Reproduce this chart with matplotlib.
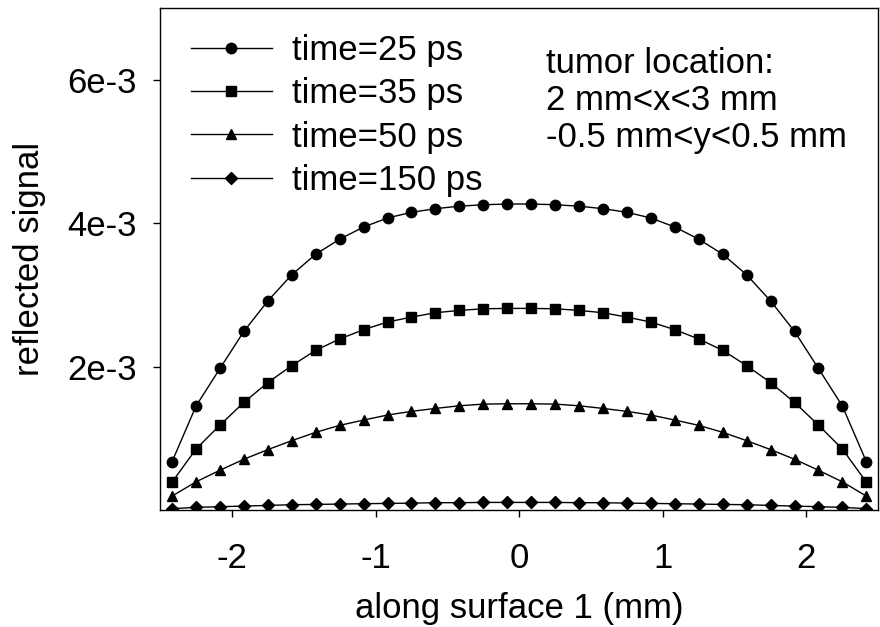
import matplotlib
matplotlib.use('Agg')
import matplotlib.pyplot as plt

plt.rcParams['font.family'] = ['Liberation Sans', 'DejaVu Sans']

# detector positions along surface 1 (mm)
pos = [-2.417, -2.250, -2.083, -1.917, -1.750, -1.583, -1.417, -1.250,
       -1.083, -0.917, -0.750, -0.583, -0.417, -0.250, -0.083,
       0.083, 0.250, 0.417, 0.583, 0.750, 0.917, 1.083, 1.250,
       1.417, 1.583, 1.750, 1.917, 2.083, 2.250, 2.417]

# left half of each curve (the curves are symmetric about 0)
half_25 = [6.8e-4, 1.455e-3, 1.98e-3, 2.495e-3, 2.92e-3, 3.285e-3, 3.57e-3,
           3.78e-3, 3.95e-3, 4.075e-3, 4.155e-3, 4.205e-3, 4.24e-3, 4.26e-3,
           4.27e-3]
half_35 = [3.94e-4, 8.56e-4, 1.19e-3, 1.505e-3, 1.782e-3, 2.018e-3, 2.231e-3,
           2.389e-3, 2.519e-3, 2.625e-3, 2.694e-3, 2.755e-3, 2.787e-3, 2.81e-3,
           2.815e-3]
half_50 = [1.99e-4, 3.98e-4, 5.6e-4, 7.13e-4, 8.47e-4, 9.72e-4, 1.088e-3,
           1.185e-3, 1.259e-3, 1.329e-3, 1.38e-3, 1.421e-3, 1.458e-3, 1.481e-3,
           1.486e-3]
half_150 = [2.4e-5, 4.2e-5, 5.1e-5, 6.0e-5, 6.9e-5, 7.9e-5, 8.3e-5, 8.8e-5,
            9.3e-5, 9.7e-5, 1.01e-4, 1.07e-4, 1.07e-4, 1.11e-4, 1.11e-4]

sig_25 = half_25 + half_25[::-1]
sig_35 = half_35 + half_35[::-1]
sig_50 = half_50 + half_50[::-1]
sig_150 = half_150 + half_150[::-1]

series = [
    ('time=25 ps', sig_25, 'o', 7.5),
    ('time=35 ps', sig_35, 's', 6.5),
    ('time=50 ps', sig_50, '^', 7.0),
    ('time=150 ps', sig_150, 'D', 6.0),
]

y_ticks = [2e-3, 4e-3, 6e-3]
y_tick_labels = ['2e-3', '4e-3', '6e-3']
x_ticks = [-2, -1, 0, 1, 2]

FS = 25

fig = plt.figure(figsize=(8.8, 6.27), dpi=100)
ax = fig.add_axes([0.182, 0.186, 0.816, 0.801])

for label, sig, mk, ms in series:
    ax.plot(pos, sig, color='black', lw=1, marker=mk, markersize=ms,
            markerfacecolor='black', markeredgecolor='black', label=label)

ax.set_xlim(-2.5, 2.5)
ax.set_ylim(0, 7e-3)
ax.set_xticks(x_ticks)
ax.set_xticklabels([str(t) for t in x_ticks])
ax.set_yticks(y_ticks)
ax.set_yticklabels(y_tick_labels)
ax.tick_params(axis='both', direction='out', length=5, width=1,
               labelsize=FS)
ax.tick_params(axis='x', pad=18)
ax.tick_params(axis='y', pad=12)
for sp in ax.spines.values():
    sp.set_linewidth(1)

ax.set_xlabel('along surface 1 (mm)', fontsize=FS, labelpad=12)
ax.set_ylabel('reflected signal', fontsize=FS, labelpad=15)

ax.legend(loc='upper left', frameon=False, fontsize=FS, handlelength=2.33,
          handletextpad=0.58, labelspacing=0.3, borderaxespad=0.0,
          borderpad=0.0, bbox_to_anchor=(0.043, 0.949))

ax.text(0.538, 0.923, 'tumor location:\n2 mm<x<3 mm\n-0.5 mm<y<0.5 mm',
        transform=ax.transAxes, fontsize=FS, va='top', ha='left',
        linespacing=1.15)

fig.savefig('out.png', dpi=100)
